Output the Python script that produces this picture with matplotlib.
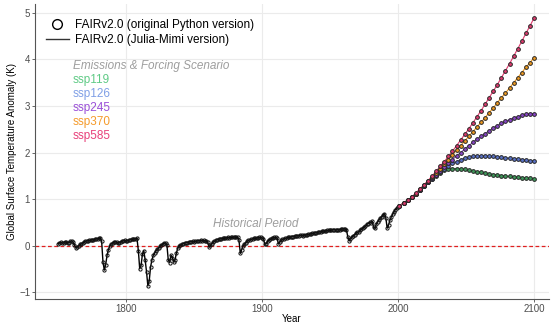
import matplotlib
matplotlib.use("Agg")
import matplotlib.pyplot as plt
from matplotlib.lines import Line2D

plt.rcParams['font.family'] = ['Liberation Sans', 'DejaVu Sans']

# historical run, annual, 1750-2000
hist_years = list(range(1750, 2001))
hist_temp = [
    0.05, 0.07, 0.08, 0.06, 0.07, 0.09, 0.08, 0.06, 0.07, 0.10,
    0.11, 0.08, 0.02, -0.04, -0.02, 0.00, 0.03, 0.04, 0.06, 0.08,
    0.10, 0.11, 0.11, 0.12, 0.12, 0.13, 0.12, 0.14, 0.15, 0.15,
    0.16, 0.17, 0.10, -0.35, -0.52, -0.40, -0.20, -0.08, 0.00, 0.04,
    0.06, 0.08, 0.09, 0.08, 0.06, 0.07, 0.09, 0.10, 0.11, 0.12,
    0.10, 0.11, 0.12, 0.13, 0.14, 0.14, 0.15, 0.15, 0.16, -0.10,
    -0.49, -0.42, -0.18, -0.10, -0.30, -0.55, -0.86, -0.75, -0.45, -0.30,
    -0.20, -0.15, -0.10, -0.07, -0.04, -0.01, 0.02, 0.04, 0.06, 0.07,
    0.02, -0.30, -0.36, -0.20, -0.25, -0.35, -0.30, -0.15, -0.05, 0.00,
    0.02, 0.03, 0.05, 0.06, 0.07, 0.07, 0.08, 0.09, 0.09, 0.10,
    0.09, 0.10, 0.10, 0.11, 0.11, 0.12, 0.11, 0.12, 0.11, 0.10,
    0.08, -0.03, 0.01, 0.05, 0.08, 0.10, 0.12, 0.13, 0.14, 0.15,
    0.15, 0.16, 0.16, 0.17, 0.17, 0.18, 0.17, 0.18, 0.18, 0.19,
    0.19, 0.18, 0.19, 0.12, -0.16, -0.08, 0.00, 0.04, 0.07, 0.10,
    0.12, 0.13, 0.14, 0.15, 0.16, 0.16, 0.17, 0.17, 0.18, 0.18,
    0.17, 0.15, 0.03, 0.05, 0.10, 0.13, 0.14, 0.16, 0.17, 0.18,
    0.18, 0.17, 0.04, 0.08, 0.12, 0.14, 0.15, 0.16, 0.17, 0.18,
    0.18, 0.19, 0.20, 0.20, 0.21, 0.21, 0.22, 0.22, 0.23, 0.23,
    0.22, 0.24, 0.23, 0.24, 0.25, 0.25, 0.26, 0.27, 0.27, 0.28,
    0.28, 0.29, 0.30, 0.30, 0.31, 0.32, 0.31, 0.32, 0.33, 0.34,
    0.33, 0.34, 0.35, 0.35, 0.34, 0.35, 0.34, 0.35, 0.36, 0.36,
    0.37, 0.36, 0.35, 0.20, 0.11, 0.15, 0.19, 0.22, 0.24, 0.27,
    0.29, 0.30, 0.33, 0.36, 0.38, 0.40, 0.42, 0.46, 0.48, 0.51,
    0.50, 0.53, 0.40, 0.38, 0.47, 0.52, 0.56, 0.60, 0.63, 0.66,
    0.69, 0.60, 0.38, 0.45, 0.55, 0.62, 0.68, 0.73, 0.78, 0.82,
    0.84,
]

# scenario runs, every 3 years
scen_years = list(range(2001, 2101, 3))
ssp119 = [0.86, 0.92, 0.98, 1.04, 1.12, 1.20, 1.28, 1.36, 1.44, 1.51,
          1.57, 1.62, 1.65, 1.66, 1.66, 1.65, 1.64, 1.62, 1.61, 1.59,
          1.58, 1.56, 1.55, 1.53, 1.52, 1.51, 1.50, 1.49, 1.48, 1.47,
          1.46, 1.46, 1.45, 1.44]
ssp126 = [0.86, 0.92, 0.98, 1.04, 1.12, 1.20, 1.28, 1.36, 1.44, 1.52,
          1.59, 1.66, 1.72, 1.77, 1.81, 1.85, 1.88, 1.90, 1.92, 1.93,
          1.93, 1.93, 1.92, 1.92, 1.91, 1.90, 1.89, 1.88, 1.87, 1.86,
          1.85, 1.84, 1.83, 1.82]
ssp245 = [0.86, 0.92, 0.98, 1.04, 1.12, 1.20, 1.29, 1.37, 1.45, 1.53,
          1.61, 1.69, 1.77, 1.85, 1.93, 2.00, 2.08, 2.15, 2.22, 2.29,
          2.35, 2.41, 2.47, 2.53, 2.58, 2.63, 2.67, 2.71, 2.74, 2.77,
          2.80, 2.82, 2.83, 2.84]
ssp370 = [0.86, 0.92, 0.98, 1.04, 1.12, 1.21, 1.30, 1.39, 1.48, 1.57,
          1.66, 1.76, 1.85, 1.95, 2.05, 2.15, 2.25, 2.35, 2.45, 2.55,
          2.65, 2.75, 2.86, 2.96, 3.07, 3.18, 3.28, 3.39, 3.50, 3.61,
          3.72, 3.83, 3.93, 4.04]
ssp585 = [0.86, 0.92, 0.98, 1.04, 1.13, 1.22, 1.31, 1.40, 1.50, 1.60,
          1.71, 1.81, 1.92, 2.03, 2.15, 2.27, 2.39, 2.51, 2.64, 2.77,
          2.90, 3.04, 3.18, 3.32, 3.46, 3.61, 3.76, 3.91, 4.07, 4.23,
          4.39, 4.56, 4.72, 4.89]

scen_names = ['ssp119', 'ssp126', 'ssp245', 'ssp370', 'ssp585']
scen_values = [ssp119, ssp126, ssp245, ssp370, ssp585]
label_colors = ['#5fca85', '#7f9fe6', '#9a4fd8', '#f59b2b', '#e8407a']
line_colors = ['#3f9a5a', '#5a73c9', '#8a45c9', '#f09a1e', '#e03a6e']

fig = plt.figure(figsize=(5.52, 3.24), dpi=100)
ax = fig.add_axes([35 / 552, 25 / 324, 514 / 552, 295 / 324])

ax.grid(True, color='#ebebeb', linewidth=0.8)
ax.set_axisbelow(True)
ax.axhline(0, color='#e02020', linestyle=(0, (3, 2)), linewidth=0.9, zorder=1)

ax.plot(hist_years, hist_temp, color='black', linewidth=1.0, zorder=3)
ax.plot(hist_years, hist_temp, linestyle='none', marker='o', markersize=2.3,
        markerfacecolor='none', markeredgecolor='#111111', markeredgewidth=0.7, zorder=3)

for vals, lc in zip(scen_values, line_colors):
    ax.plot(scen_years, vals, color=lc, linewidth=0.8, zorder=4)
    ax.plot(scen_years, vals, linestyle='none', marker='o', markersize=2.7,
            markerfacecolor=lc, markeredgecolor='#262626', markeredgewidth=0.7, zorder=5)

ax.set_xlim(1733, 2111)
ax.set_ylim(-1.14, 5.19)
ax.set_xticks([1800, 1900, 2000, 2100])
ax.set_yticks([-1, 0, 1, 2, 3, 4, 5])
ax.tick_params(labelsize=7, colors='#4d4d4d', length=2, width=0.6, pad=1.5)
for side in ['top', 'right']:
    ax.spines[side].set_visible(False)
for side in ['left', 'bottom']:
    ax.spines[side].set_color('#555555')
    ax.spines[side].set_linewidth(0.8)

ax.set_xlabel("Year", fontsize=7, labelpad=0)
ax.set_ylabel("Global Surface Temperature Anomaly (K)", fontsize=7, labelpad=1.5)

handles = [
    Line2D([], [], linestyle='none', marker='o', markersize=7,
           markerfacecolor='none', markeredgecolor='black', markeredgewidth=1.0),
    Line2D([], [], color='#333333', linewidth=1.0),
]
ax.legend(handles, ["FAIRv2.0 (original Python version)", "FAIRv2.0 (Julia-Mimi version)"],
          loc='upper left', bbox_to_anchor=(0.0, 0.985), frameon=False, fontsize=8.5,
          handlelength=2.0, handletextpad=0.5, labelspacing=0.25)

ax.text(0.074, 0.789, "Emissions & Forcing Scenario", transform=ax.transAxes,
        fontsize=8.5, style='italic', color='#9e9e9e', va='center')
for i, (name, c) in enumerate(zip(scen_names, label_colors)):
    ax.text(0.074, 0.742 - i * 0.047, name, transform=ax.transAxes,
            fontsize=8.5, color=c, va='center')

ax.text(1895, 0.47, "Historical Period", fontsize=8.5, style='italic',
        color='#9e9e9e', ha='center', va='center')

fig.savefig("out.png", dpi=100)
